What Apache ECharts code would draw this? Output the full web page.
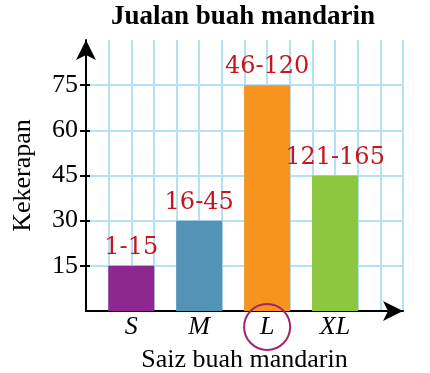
<!DOCTYPE html>
<html>
<head>
<meta charset="utf-8">
<script src="https://cdn.jsdelivr.net/npm/echarts@6/dist/echarts.min.js"></script>
<style>html,body{margin:0;padding:0;background:#fff}#c{width:430px;height:373px}</style>
</head>
<body>
<div id="c"></div>
<script>
const categories = ['S', 'M', 'L', 'XL'];
const frequencies = [15, 30, 75, 45];
const sizeRanges = ['1-15', '16-45', '46-120', '121-165'];
const yTickLabels = [15, 30, 45, 60, 75];
const barColors = ['#8e278f', '#5393b5', '#f6941f', '#8dc63f'];

const serif = 'Liberation Serif';
const gridColor = '#b5e1f5';
const chart = echarts.init(document.getElementById('c'), null, {renderer: 'canvas'});

chart.setOption({
  animation: false,
  title: {
    text: 'Jualan buah mandarin',
    left: 111, top: 4, padding: 0,
    textStyle: {fontFamily: serif, fontWeight: 'bold', fontSize: 27, color: '#000'}
  },
  grid: [
    {left: 86, right: 27, top: 40, bottom: 62, outerBoundsMode: 'none', containLabel: false},
    {left: 97.3, right: 61, top: 40, bottom: 62, outerBoundsMode: 'none', containLabel: false}
  ],
  xAxis: [
    {
      gridIndex: 0, type: 'value', min: 0, max: 14, interval: 1,
      axisLine: {show: true, onZero: false, lineStyle: {color: '#000', width: 2},
        symbol: ['none', 'arrow'], symbolSize: [15, 20], symbolOffset: [0, 0]},
      axisTick: {show: false},
      axisLabel: {show: false},
      splitLine: {show: true, lineStyle: {color: gridColor, width: 2}},
      name: 'Saiz buah mandarin', nameLocation: 'middle', nameGap: 36,
      nameTextStyle: {fontFamily: serif, fontSize: 26, color: '#000'}
    },
    {
      gridIndex: 1, type: 'category', data: categories,
      axisLine: {show: false}, axisTick: {show: false}, splitLine: {show: false},
      axisLabel: {fontFamily: serif, fontStyle: 'italic', fontSize: 26, color: '#000', margin: 3}
    }
  ],
  yAxis: [
    {
      gridIndex: 0, type: 'value', min: 0, max: 90, interval: 7.5, position: 'left',
      axisLine: {show: true, onZero: false, lineStyle: {color: '#000', width: 2},
        symbol: ['none', 'arrow'], symbolSize: [15, 20], symbolOffset: [0, 0]},
      axisTick: {show: true, customValues: yTickLabels, length: 6, lineStyle: {color: '#000', width: 2}},
      axisLabel: {customValues: yTickLabels, fontFamily: serif, fontSize: 26, color: '#000', margin: 8},
      splitLine: {show: true, lineStyle: {color: gridColor, width: 2}},
      name: 'Kekerapan', nameLocation: 'middle', nameGap: 50, nameRotate: 90,
      nameTextStyle: {fontFamily: serif, fontSize: 26, color: '#000'}
    },
    {
      gridIndex: 0, type: 'value', min: 0, max: 90, position: 'left',
      axisLine: {show: false},
      axisTick: {show: true, inside: true, customValues: yTickLabels, length: 4, lineStyle: {color: '#000', width: 2}},
      axisLabel: {show: false}, splitLine: {show: false}
    },
    {gridIndex: 1, type: 'value', min: 0, max: 90, show: false}
  ],
  series: [{
    type: 'bar', xAxisIndex: 1, yAxisIndex: 2, barWidth: 46,
    data: frequencies.map((v, i) => ({value: v, itemStyle: {color: barColors[i]}})),
    label: {
      show: true, position: 'top', distance: 6,
      formatter: p => sizeRanges[p.dataIndex],
      fontFamily: 'DejaVu Serif', fontSize: 24, color: '#c4161c'
    }
  }]
});

const cx = chart.convertToPixel({xAxisIndex: 1}, 'L');
const cy = chart.convertToPixel({yAxisIndex: 2}, 0) + 16;
chart.setOption({
  graphic: [{
    type: 'circle', shape: {cx: cx, cy: cy, r: 23},
    style: {fill: 'none', stroke: '#a3246e', lineWidth: 2}, z: 10
  }]
});
</script>
</body>
</html>
